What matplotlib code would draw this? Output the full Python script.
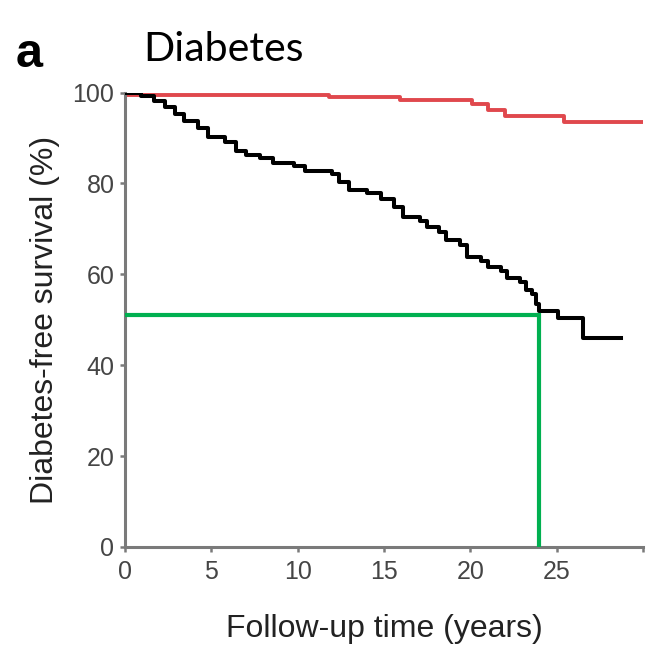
import numpy as np
import matplotlib
matplotlib.use("Agg")
import matplotlib.pyplot as plt

# ---- data ----
black_time = [0, 0.9, 1.7, 2.3, 2.9, 3.4, 4.2, 4.8, 5.8, 6.4, 7.0, 7.8, 8.6, 9.8,
              10.4, 12.0, 12.4, 13.0, 14.0, 14.8, 15.6, 16.1, 17.1, 17.5, 18.2,
              18.6, 19.4, 19.8, 20.6, 21.0, 21.8, 22.1, 22.9, 23.2, 23.6, 23.8,
              24.0, 25.1, 26.5]
black_surv = [100, 99.2, 98.2, 96.8, 95.2, 93.8, 92.2, 90.3, 89.2, 87.2, 86.2, 85.5,
              84.5, 83.8, 82.8, 82.0, 80.2, 78.6, 77.8, 76.6, 74.8, 72.6, 71.8, 70.3,
              69.2, 67.6, 66.4, 63.8, 63.0, 61.6, 60.8, 59.2, 58.2, 56.6, 55.6, 53.5,
              52.0, 50.4, 45.9]
black_end = 28.7

red_time = [0, 11.8, 15.9, 20.1, 21.0, 22.0, 25.4]
red_surv = [99.4, 98.9, 98.3, 97.4, 96.2, 94.9, 93.5]
red_end = 30.0

median_time = 24.0
median_surv = 51.0

x_ticks = [0, 5, 10, 15, 20, 25, 30]
x_tick_labels = ["0", "5", "10", "15", "20", "25", ""]
y_ticks = [0, 20, 40, 60, 80, 100]
y_tick_labels = ["0", "20", "40", "60", "80", "100"]

# ---- figure ----
W, H = 654, 649
fig = plt.figure(figsize=(W / 100, H / 100), dpi=100)
ax = fig.add_axes([125 / W, 1 - 547 / H, (643 - 125) / W, (547 - 92.5) / H])

ax.step(np.r_[red_time, red_end], np.r_[red_surv, red_surv[-1]], where="post",
        color="#e0484d", lw=2.8, zorder=2)
ax.step(np.r_[black_time, black_end], np.r_[black_surv, black_surv[-1]], where="post",
        color="black", lw=2.9, zorder=3)
ax.plot([0, median_time, median_time], [median_surv, median_surv, 0],
        color="#00b050", lw=3.0, zorder=4, solid_joinstyle="miter")

ax.set_xlim(0, 30)
ax.set_ylim(0, 100)
ax.set_xticks(x_ticks)
ax.set_xticklabels(x_tick_labels)
ax.set_yticks(y_ticks)
ax.set_yticklabels(y_tick_labels)

for s in ["top", "right"]:
    ax.spines[s].set_visible(False)
for s in ["left", "bottom"]:
    ax.spines[s].set_color("#7a7a7a")
    ax.spines[s].set_linewidth(2.2)

ax.tick_params(axis="both", direction="out", length=3.6, width=1.8,
               color="#7a7a7a", labelcolor="#454545")
ax.tick_params(axis="x", pad=6)
ax.tick_params(axis="y", pad=4)
for lab in ax.get_xticklabels() + ax.get_yticklabels():
    lab.set_fontfamily("Liberation Sans")
    lab.set_fontsize(18)

ax.set_xlabel("Follow-up time (years)", fontfamily="Liberation Sans", fontsize=23,
              color="#222222", labelpad=21)
ax.set_ylabel("Diabetes-free survival (%)", fontfamily="Liberation Sans", fontsize=23,
              color="#222222", labelpad=9)

fig.text(143 / W, 1 - 61 / H, "Diabetes", fontfamily="Lato", fontsize=29.5,
         color="black", ha="left", va="baseline")
fig.text(16 / W, 1 - 67 / H, "a", fontfamily="Liberation Sans", fontweight="bold",
         fontsize=35, color="black", ha="left", va="baseline")

fig.savefig("out.png", dpi=100)
